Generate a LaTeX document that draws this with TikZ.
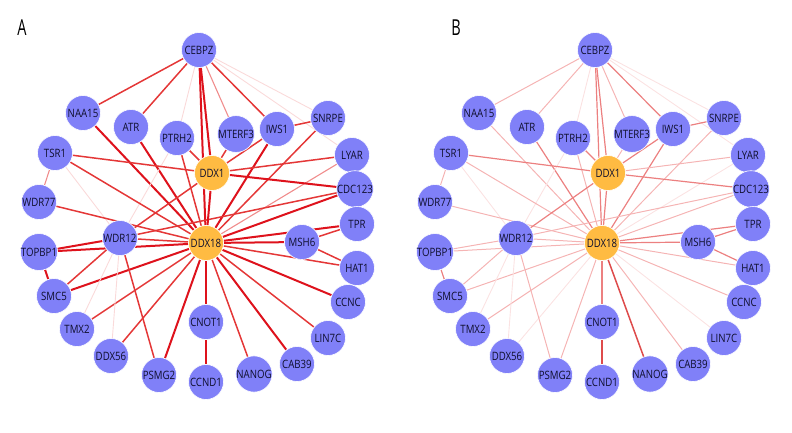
\documentclass[tikz,border=0pt]{standalone}
\usepackage{fontspec}
\setsansfont{Open Sans}[FakeStretch=0.84]
\newfontfamily\panelfont{Open Sans}[FakeStretch=0.66]
\usetikzlibrary{backgrounds}
\definecolor{genefill}{RGB}{128,128,248}
\definecolor{hubfill}{RGB}{255,187,66}
\definecolor{genetext}{RGB}{15,15,45}
\definecolor{redA3}{RGB}{222,18,28}
\definecolor{redA2}{RGB}{228,55,55}
\definecolor{redA1}{RGB}{240,140,140}
\definecolor{redA0}{RGB}{250,218,218}
\definecolor{redB3}{RGB}{222,75,75}
\definecolor{redB2}{RGB}{236,128,128}
\definecolor{redB1}{RGB}{245,180,180}
\definecolor{redB0}{RGB}{251,226,226}
\tikzset{
  gene/.style={circle, fill=genefill, draw=white, line width=0.6pt, minimum size=35pt,
    inner sep=0pt, text=genetext, font=\sffamily\fontsize{11.5}{11.5}\selectfont},
  hub/.style={gene, fill=hubfill},
  panel/.style={font=\panelfont\fontsize{22}{22}\selectfont},
  ea3/.style={draw=redA3, line width=2pt},
  ea2/.style={draw=redA2, line width=1.5pt},
  ea1/.style={draw=redA1, line width=1.1pt},
  ea0/.style={draw=redA0, line width=0.9pt},
  eb3/.style={draw=redB3, line width=1.5pt},
  eb2/.style={draw=redB2, line width=1.2pt},
  eb1/.style={draw=redB1, line width=1pt},
  eb0/.style={draw=redB0, line width=0.9pt}
}
\def\genelist{CEBPZ/199/50, NAA15/83/113, ATR/131/127, PTRH2/177/138, MTERF3/236/134,
  IWS1/277/129, SNRPE/328/118, TSR1/55/153, LYAR/352/155, CDC123/355/189,
  WDR77/39/202, TPR/357/224, WDR12/120/238, MSH6/302/242, TOPBP1/39/252,
  HAT1/357/268, SMC5/54/296, CCNC/348/302, TMX2/77/329, CNOT1/206/322,
  LIN7C/328/338, DDX56/111/356, CAB39/297/364, PSMG2/159/375, NANOG/254/374,
  CCND1/206/382}
\def\edgelist{CEBPZ/NAA15/2/1, CEBPZ/ATR/2/1, CEBPZ/PTRH2/0/0, CEBPZ/DDX1/3/2,
  CEBPZ/DDX18/3/2, CEBPZ/MTERF3/1/1, CEBPZ/IWS1/2/2, CEBPZ/SNRPE/0/0,
  CEBPZ/LYAR/0/0, NAA15/DDX18/3/1, ATR/DDX18/3/2, PTRH2/DDX1/2/2,
  PTRH2/DDX18/2/1, PTRH2/WDR12/0/0, MTERF3/DDX1/2/1, IWS1/DDX1/2/2,
  IWS1/DDX18/3/2, IWS1/SNRPE/2/2, SNRPE/DDX18/2/1, LYAR/DDX1/2/1,
  LYAR/DDX18/1/0, CDC123/DDX1/3/2, CDC123/DDX18/3/1, CDC123/WDR12/2/1,
  TSR1/DDX1/2/2, TSR1/DDX18/2/1, TSR1/WDR77/1/1, TSR1/WDR12/0/0,
  WDR77/DDX18/2/1, TOPBP1/WDR12/3/1, TOPBP1/DDX18/3/1, TOPBP1/SMC5/3/2,
  SMC5/WDR12/2/1, SMC5/DDX18/3/1, TMX2/WDR12/0/0, TMX2/DDX18/2/1,
  DDX56/WDR12/0/0, DDX56/DDX18/2/0, PSMG2/WDR12/2/1, PSMG2/DDX18/3/1,
  CNOT1/DDX18/3/2, CNOT1/CCND1/3/3, NANOG/DDX18/2/3, CAB39/DDX18/3/1,
  LIN7C/DDX18/2/0, CCNC/DDX18/3/1, HAT1/DDX18/2/1, HAT1/MSH6/2/2,
  MSH6/DDX18/3/2, MSH6/TPR/2/2, TPR/DDX18/3/2, WDR12/DDX18/2/1,
  WDR12/DDX1/2/2, DDX1/DDX18/3/2}

\begin{document}
\begin{tikzpicture}[x=1pt, y=-1pt]
  \useasboundingbox (0,0) rectangle (792,432);

  % panel A
  \node[panel] (labelA) at (22,28) {A};
  \begin{scope}[name prefix=a-]
    \foreach \g/\x/\y in \genelist {
      \node[gene] (\g) at (\x,\y) {\g};
    }
    \node[hub] (DDX1) at (212,173) {DDX1};
    \node[hub] (DDX18) at (206,243) {DDX18};
    \begin{pgfonlayer}{background}
      \foreach \u/\v/\wa/\wb in \edgelist {
        \draw[ea\wa] (\u) -- (\v);
      }
    \end{pgfonlayer}
  \end{scope}

  % panel B
  \node[panel] (labelB) at (456,28) {B};
  \begin{scope}[xshift=396, name prefix=b-]
    \foreach \g/\x/\y in \genelist {
      \node[gene] (\g) at (\x,\y) {\g};
    }
    \node[hub] (DDX1) at (212,173) {DDX1};
    \node[hub] (DDX18) at (206,243) {DDX18};
    \begin{pgfonlayer}{background}
      \foreach \u/\v/\wa/\wb in \edgelist {
        \draw[eb\wb] (\u) -- (\v);
      }
    \end{pgfonlayer}
  \end{scope}

\end{tikzpicture}
\end{document}
